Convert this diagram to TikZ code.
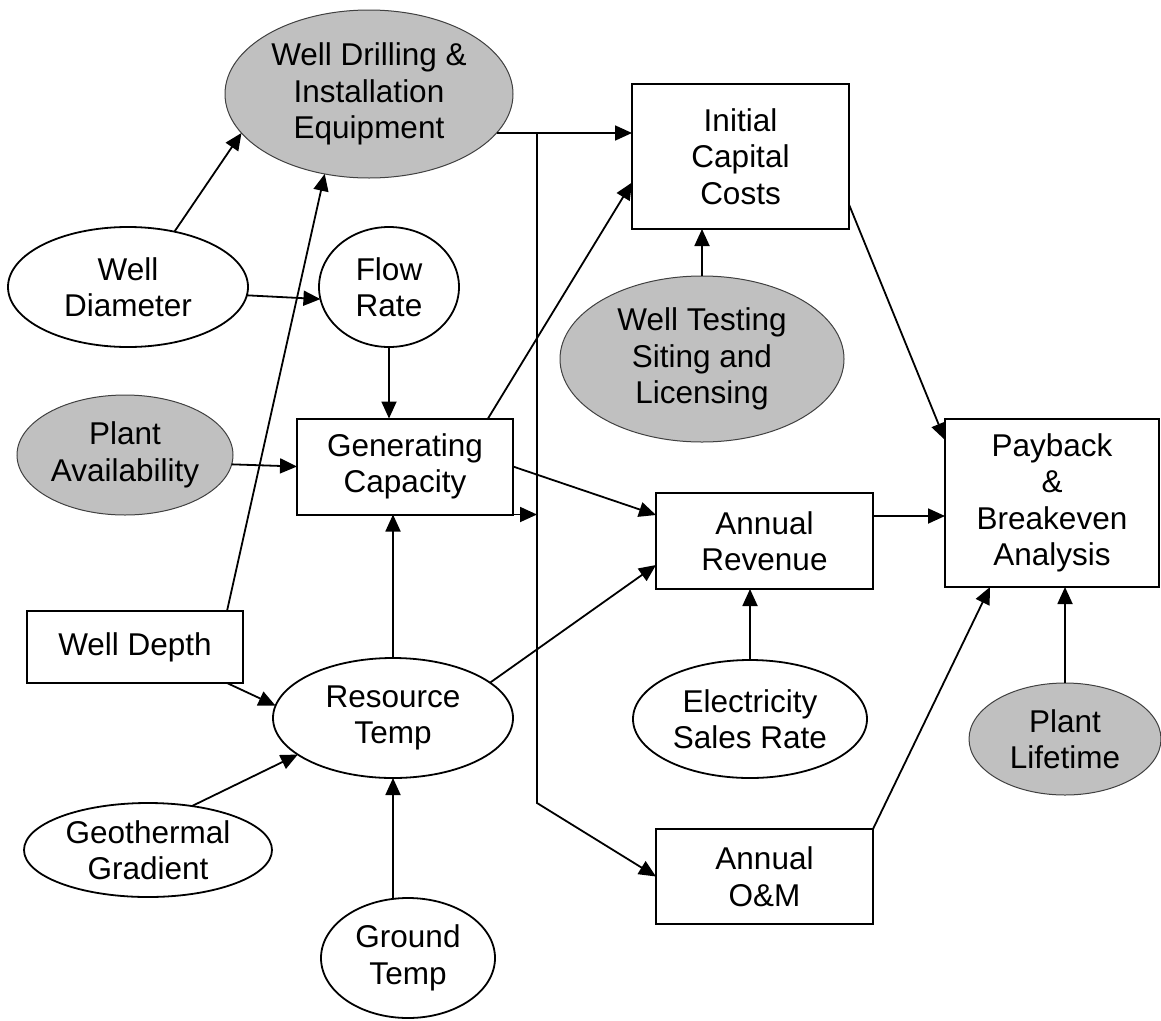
\documentclass[tikz,border=0pt]{standalone}
\usepackage{fontspec}
\setmainfont{Liberation Sans}
\usetikzlibrary{shapes.geometric,arrows.meta,calc}
\definecolor{grayfill}{RGB}{192,192,192}
\begin{document}
\begin{tikzpicture}[x=1pt,y=-1pt,
  lbl/.style={font=\fontsize{31.5}{36.5}\selectfont, align=center, inner sep=0pt, outer sep=0pt},
  boxn/.style={lbl, draw, line width=2pt, rectangle, fill=white},
  ovw/.style={lbl, draw, line width=1.8pt, ellipse, fill=white},
  ovg/.style={lbl, draw=black!75, line width=1pt, ellipse, fill=grayfill},
  arr/.style={line width=1.8pt, -{Triangle[length=17pt,width=15pt]}},
  ln/.style={line width=1.8pt}]

\useasboundingbox (0,0) rectangle (1161,1020);

% nodes
\node[ovg, minimum width=288pt, minimum height=168pt] (equip) at (369,94) {Well Drilling \&\\Installation\\Equipment};
\node[ovw, minimum width=240pt, minimum height=120pt] (wdia) at (128,287) {Well\\Diameter};
\node[ovw, minimum width=140pt, minimum height=120pt] (flow) at (389,287) {Flow\\Rate};
\node[ovg, minimum width=216pt, minimum height=120pt] (pavail) at (125,455) {Plant\\Availability};
\node[boxn, minimum width=216pt, minimum height=96pt] (gen) at (405,466.5) {Generating\\Capacity};
\node[boxn, minimum width=216pt, minimum height=72pt] (wdepth) at (135,647) {Well Depth};
\node[ovw, minimum width=240pt, minimum height=120pt] (res) at (393,718) {Resource\\Temp};
\node[ovw, minimum width=248pt, minimum height=94pt] (geo) at (148,850) {Geothermal\\Gradient};
\node[ovw, minimum width=174pt, minimum height=120pt] (ground) at (408,958) {Ground\\Temp};
\node[boxn, minimum width=217pt, minimum height=145pt] (init) at (740.5,156.5) {Initial\\Capital\\Costs};
\node[ovg, minimum width=284pt, minimum height=166pt] (test) at (702,359) {Well Testing\\Siting and\\Licensing};
\node[boxn, minimum width=217pt, minimum height=96pt] (rev) at (764.5,541) {Annual\\Revenue};
\node[boxn, minimum width=217pt, minimum height=95pt] (om) at (764.5,876.5) {Annual\\O\&M};
\node[ovw, minimum width=234pt, minimum height=118pt] (elec) at (750,719) {Electricity\\Sales Rate};
\node[boxn, minimum width=214pt, minimum height=168pt] (pay) at (1052,503) {Payback\\\&\\Breakeven\\Analysis};
\node[ovg, minimum width=192pt, minimum height=112pt] (life) at (1065,739) {Plant\\Lifetime};

% helper coordinates
\coordinate (bus) at (537,803);
\coordinate (revout) at ($(rev.east)+(0,-25)$);

% connectors
\draw[arr] (wdia.50) -- (equip.197);
\draw[arr] ($(wdepth.north east)+(-16,0)$) -- (equip.241);
\draw[arr] (wdia.-4) -- (flow.190);
\draw[arr] (equip.-17) -- (equip.-17 -| init.west);
\draw[arr] (equip.-17 -| bus) -- (bus) -- (om.west);
\draw[arr] (gen.south east) -- (gen.south east -| bus);
\draw[arr] (flow.south) -- (flow.south |- gen.north);
\draw[arr] (pavail.-5) -- (gen.west);
\draw[arr] ($(gen.north east)+(-25,0)$) -- ($(init.west)+(0,26)$);
\draw[arr] (gen.east) -- ($(rev.west)+(0,-26)$);
\draw[arr] (res.north) -- (res.north |- gen.south);
\draw[arr] ($(wdepth.south east)+(-16,0)$) -- (res.174);
\draw[arr] (geo.45) -- (res.201);
\draw[arr] (res.south |- ground.north) -- (res.south);
\draw[arr] (res.20) -- ($(rev.west)+(0,24)$);
\draw[arr] (test.north) -- (test.north |- init.south);
\draw[arr] ($(init.east)+(0,48)$) -- ($(pay.west)+(0,-63)$);
\draw[arr] (revout) -- (revout -| pay.west);
\draw[arr] (elec.north) -- (elec.north |- rev.south);
\draw[arr] (om.north east) -- ($(pay.south west)+(45,0)$);
\draw[arr] (life.north) -- (life.north |- pay.south);
\end{tikzpicture}
\end{document}
